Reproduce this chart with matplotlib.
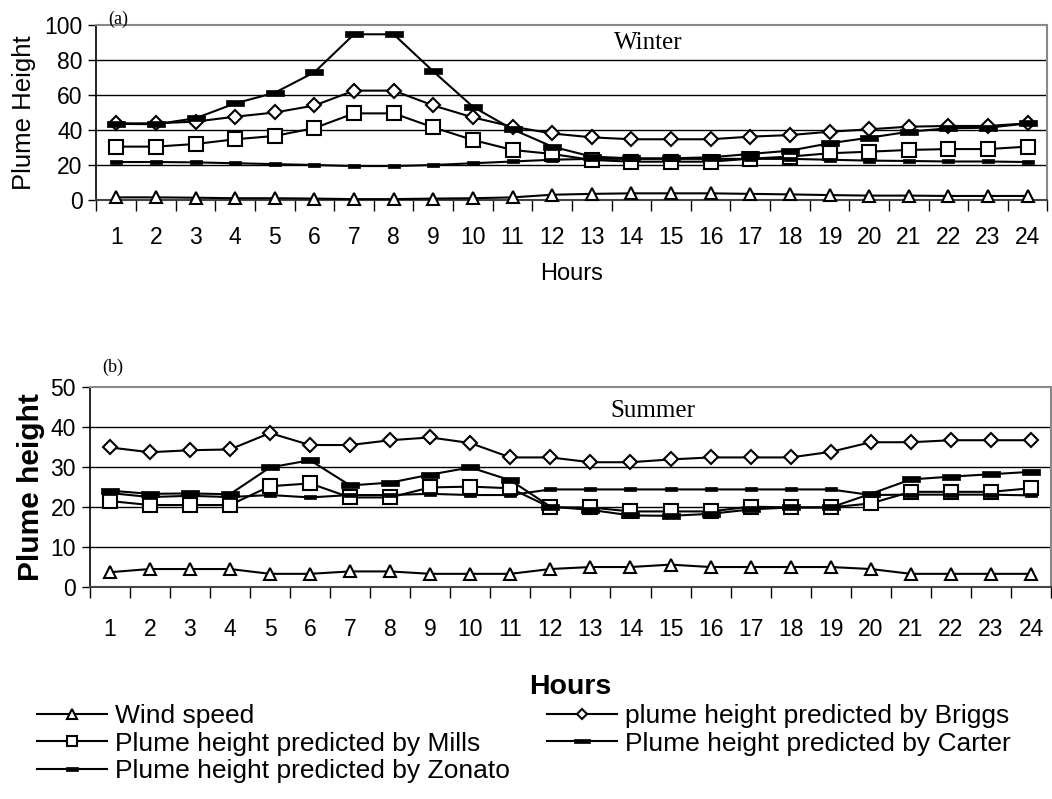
import numpy as np
import matplotlib
matplotlib.use('Agg')
import matplotlib.pyplot as plt
from matplotlib.lines import Line2D

plt.rcParams['font.family'] = ['Liberation Sans', 'DejaVu Sans']

# data
hours = list(range(1, 25))
hour_labels = [str(h) for h in hours]

# winter (a)
wind_w = [1.5, 1.5, 1.3, 1.0, 1.0, 0.8, 0.5, 0.5, 0.8, 1.0, 1.5, 3.0,
          3.5, 3.8, 3.8, 3.8, 3.5, 3.2, 2.8, 2.5, 2.5, 2.3, 2.3, 2.3]
briggs_w = [43.8, 43.8, 44.8, 47.6, 50.0, 54.0, 62.5, 62.5, 54.0, 47.2, 41.9, 38.0,
            35.8, 34.7, 34.7, 34.7, 36.2, 37.1, 39.0, 40.4, 41.9, 42.3, 42.3, 43.8]
mills_w = [30.5, 30.5, 32.0, 34.7, 36.6, 41.1, 49.5, 49.5, 41.5, 34.3, 28.6, 26.3,
           22.9, 21.9, 21.9, 21.9, 23.6, 24.8, 26.7, 27.6, 28.6, 29.1, 29.1, 30.5]
carter_w = [43.5, 43.3, 46.7, 55.2, 61.3, 73.0, 94.7, 94.7, 73.5, 53.3, 40.4, 30.5,
            24.8, 23.8, 23.8, 24.4, 26.3, 28.2, 32.4, 35.6, 39.0, 41.0, 41.3, 43.8]
zonato_w = [21.7, 21.7, 21.5, 21.0, 20.5, 20.0, 19.4, 19.4, 20.0, 21.0, 22.0, 23.0,
            23.5, 23.5, 23.5, 23.5, 23.5, 23.5, 23.0, 22.5, 22.3, 22.0, 22.0, 21.7]

# summer (b)
wind_s = [3.7, 4.5, 4.5, 4.5, 3.3, 3.3, 3.9, 3.9, 3.3, 3.3, 3.3, 4.5,
          5.0, 5.0, 5.6, 5.0, 5.0, 5.0, 5.0, 4.5, 3.3, 3.3, 3.3, 3.3]
briggs_s = [34.9, 33.7, 34.2, 34.4, 38.5, 35.5, 35.5, 36.7, 37.4, 36.0, 32.4, 32.4,
            31.2, 31.2, 31.9, 32.4, 32.4, 32.4, 33.8, 36.2, 36.2, 36.7, 36.7, 36.7]
mills_s = [21.5, 20.5, 20.5, 20.5, 25.2, 25.9, 22.4, 22.4, 24.9, 25.1, 24.7, 19.9,
           19.9, 18.9, 18.9, 18.9, 20.1, 19.9, 19.9, 20.9, 23.8, 23.8, 23.8, 24.7]
carter_s = [24.1, 23.3, 23.4, 23.2, 29.9, 31.7, 25.4, 26.1, 28.1, 29.9, 26.7, 20.1,
            19.3, 17.9, 17.8, 18.3, 19.4, 19.9, 19.9, 23.3, 26.9, 27.6, 28.2, 28.8]
zonato_s = [23.5, 22.5, 22.8, 22.5, 23.0, 22.4, 23.0, 23.0, 23.3, 23.0, 23.0, 24.4,
            24.4, 24.4, 24.4, 24.4, 24.4, 24.4, 24.4, 23.0, 23.1, 23.1, 23.1, 22.9]

labels = ['Wind speed', 'plume height predicted by Briggs', 'Plume height predicted by Mills',
          'Plume height predicted by Carter', 'Plume height predicted by Zonato']

# marker shapes for Carter / Zonato: flat black bars
bar_big = [(-1, -0.3), (1, -0.3), (1, 0.3), (-1, 0.3), (-1, -0.3)]
bar_small = [(-1, -0.28), (1, -0.28), (1, 0.28), (-1, 0.28), (-1, -0.28)]

styles = [
    dict(marker='^', ms=9, mfc='white', mec='black', mew=1.5),
    dict(marker='D', ms=6.8, mfc='white', mec='black', mew=1.5),
    dict(marker='s', ms=9.5, mfc='white', mec='black', mew=1.5),
    dict(marker=bar_big, ms=13, mfc='black', mec='black', mew=0.5),
    dict(marker=bar_small, ms=9, mfc='black', mec='black', mew=0.5),
]
legend_scale = [0.75, 0.75, 0.75, 0.9, 1.0]

fig = plt.figure(figsize=(10.52, 7.99), dpi=100)
ax1 = fig.add_axes([0.0917, 0.7497, 0.904, 0.219])
ax2 = fig.add_axes([0.0853, 0.2653, 0.9138, 0.2503])


def draw(ax, series, ymax, step):
    for vals, st in zip(series, styles):
        ax.plot(hours, vals, color='black', lw=1.5, zorder=3, clip_on=False, **st)
    ax.set_xlim(0.5, 24.5)
    ax.set_ylim(0, ymax)
    ax.set_yticks(np.arange(0, ymax + 1, step))
    ax.set_xticks(hours)
    ax.set_xticklabels(hour_labels)
    ax.set_xticks(np.arange(0.5, 25, 1), minor=True)
    ax.tick_params(axis='x', which='major', length=0, labelsize=16.5)
    ax.tick_params(axis='x', which='minor', length=8, width=1, direction='out')
    ax.tick_params(axis='y', length=6, width=1, labelsize=16.5, pad=4)
    # horizontal gridlines
    for y in np.arange(step, ymax, step):
        ax.axhline(y, color='black', lw=1, zorder=1)
    for s in ['top', 'right']:
        ax.spines[s].set_color('#888888')
        ax.spines[s].set_linewidth(1.5)
    ax.spines['left'].set_linewidth(1.2)
    ax.spines['bottom'].set_linewidth(1.5)
    ax.spines['bottom'].set_color('#444444')


draw(ax1, [wind_w, briggs_w, mills_w, carter_w, zonato_w], 100, 20)
draw(ax2, [wind_s, briggs_s, mills_s, carter_s, zonato_s], 50, 10)
ax1.tick_params(axis='x', which='major', pad=19)
ax2.tick_params(axis='x', which='major', pad=22)

ax1.set_ylabel('Plume Height', fontsize=18.5, labelpad=6)
ax1.set_xlabel('Hours', fontsize=17, labelpad=10)
ax2.set_ylabel('Plume height', fontsize=21.5, fontweight='bold', labelpad=3.5)
ax2.set_xlabel('Hours', fontsize=20.5, fontweight='bold', labelpad=24)

ax1.text(0.012, 1.034, '(a)', transform=ax1.transAxes, family='Liberation Serif',
         fontsize=13, va='center', ha='left')
ax1.text(0.58, 0.897, 'Winter', transform=ax1.transAxes, family='Liberation Serif',
         fontsize=18, va='center', ha='center')
ax2.text(0.0125, 1.10, '(b)', transform=ax2.transAxes, family='Liberation Serif',
         fontsize=13, va='center', ha='left')
ax2.text(0.586, 0.88, 'Summer', transform=ax2.transAxes, family='Liberation Serif',
         fontsize=18, va='center', ha='center')

leg_kw = dict(frameon=False, fontsize=19, handlelength=2.65, handletextpad=0.3,
              labelspacing=0.14, borderpad=0, borderaxespad=0)


def leg_handle(i):
    st = dict(styles[i])
    st['ms'] = st['ms'] * legend_scale[i]
    return Line2D([], [], color='black', lw=1.5, **st)


fig.legend([leg_handle(0), leg_handle(2), leg_handle(4)],
           [labels[0], labels[2], labels[4]],
           loc='upper left', bbox_to_anchor=(0.0352, 0.119), **leg_kw)
fig.legend([leg_handle(1), leg_handle(3)],
           [labels[1], labels[3]],
           loc='upper left', bbox_to_anchor=(0.52, 0.119), **leg_kw)

fig.savefig('out.png', dpi=100)
